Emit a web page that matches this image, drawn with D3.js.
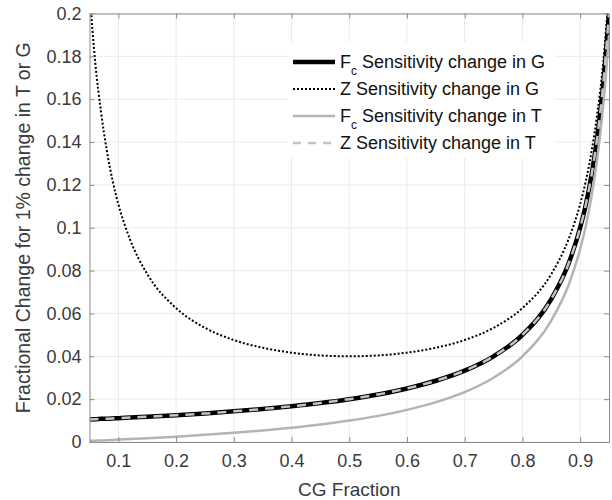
<!DOCTYPE html>
<html>
<head>
<meta charset="utf-8">
<script src="https://cdn.jsdelivr.net/npm/d3@7"></script>
<style>
    body { margin: 0; background: #fff; }
    text { font-family: "Liberation Sans", Arial, sans-serif; }
</style>
</head>
<body>
<svg></svg>
<script>
// CG fraction values where the curves were read
const cgFraction = [0.05, 0.06, 0.07, 0.08, 0.09, 0.1, 0.12, 0.15, 0.2, 0.25, 0.3, 0.35, 0.4, 0.45, 0.5,
    0.55, 0.6, 0.65, 0.7, 0.75, 0.8, 0.85, 0.88, 0.9, 0.91, 0.92, 0.93, 0.94, 0.95];

const fcChangeG = [0.0105, 0.0106, 0.0108, 0.0109, 0.011, 0.0111, 0.0114, 0.0118, 0.0125, 0.0133, 0.0143, 0.0154, 0.0167, 0.0182, 0.02,
    0.0222, 0.025, 0.0286, 0.0333, 0.04, 0.05, 0.0667, 0.0833, 0.1, 0.111, 0.125, 0.143, 0.167, 0.2];

const zChangeG = [0.2105, 0.177, 0.154, 0.136, 0.122, 0.111, 0.0947, 0.0784, 0.0625, 0.0533, 0.0476, 0.044, 0.0417, 0.0404, 0.04,
    0.0404, 0.0417, 0.044, 0.0476, 0.0533, 0.0625, 0.0784, 0.0947, 0.111, 0.122, 0.136, 0.154, 0.177, 0.2105];

const fcChangeT = [0.00053, 0.00064, 0.00075, 0.00087, 0.00099, 0.00111, 0.00136, 0.00176, 0.0025, 0.00333, 0.00429, 0.00538, 0.00667, 0.00818, 0.01,
    0.0122, 0.015, 0.0186, 0.0233, 0.03, 0.04, 0.0567, 0.0733, 0.09, 0.101, 0.115, 0.133, 0.157, 0.19];

const zChangeT = [0.0105, 0.0106, 0.0108, 0.0109, 0.011, 0.0111, 0.0114, 0.0118, 0.0125, 0.0133, 0.0143, 0.0154, 0.0167, 0.0182, 0.02,
    0.0222, 0.025, 0.0286, 0.0333, 0.04, 0.05, 0.0667, 0.0833, 0.1, 0.111, 0.125, 0.143, 0.167, 0.2];

const xTicks = [0.1, 0.2, 0.3, 0.4, 0.5, 0.6, 0.7, 0.8, 0.9];
const yTicks = [0, 0.02, 0.04, 0.06, 0.08, 0.1, 0.12, 0.14, 0.16, 0.18, 0.2];

const legendItems = [
    { main: "F", sub: "c", rest: " Sensitivity change in G" },
    { main: "Z", sub: "", rest: " Sensitivity change in G" },
    { main: "F", sub: "c", rest: " Sensitivity change in T" },
    { main: "Z", sub: "", rest: " Sensitivity change in T" }
];

const width = 612;
const height = 500;
const margin = { left: 89.5, right: 3, top: 13.5, bottom: 58 };

let svg = d3.select("svg").attr("width", width).attr("height", height);

let scX = d3.scaleLinear().domain([0.05, 0.95]).range([margin.left, width - margin.right]);
let scY = d3.scaleLinear().domain([0, 0.2]).range([height - margin.bottom, margin.top]);

const axisColor = "#8c8c8c";
const textColor = "#3a3a3a";

// grid
svg.append("g")
    .selectAll("line").data(xTicks).enter().append("line")
    .attr("x1", d => scX(d)).attr("x2", d => scX(d))
    .attr("y1", scY(0)).attr("y2", scY(0.2))
    .attr("stroke", "#ebebeb").attr("stroke-width", 1);

svg.append("g")
    .selectAll("line").data(yTicks).enter().append("line")
    .attr("x1", scX(0.05)).attr("x2", scX(0.95))
    .attr("y1", d => scY(d)).attr("y2", d => scY(d))
    .attr("stroke", "#ebebeb").attr("stroke-width", 1);

// clip for the curves
svg.append("clipPath").attr("id", "plotArea")
    .append("rect")
    .attr("x", scX(0.05)).attr("y", scY(0.2))
    .attr("width", scX(0.95) - scX(0.05))
    .attr("height", scY(0) - scY(0.2));

let line = d3.line()
    .x((d, i) => scX(cgFraction[i]))
    .y(d => scY(d))
    .curve(d3.curveMonotoneX);

let curves = svg.append("g").attr("clip-path", "url(#plotArea)");

const series = [
    { values: fcChangeG, color: "#000", width: 4.5, dash: null },
    { values: zChangeG, color: "#000", width: 2, dash: "2,2" },
    { values: fcChangeT, color: "#b4b4b4", width: 2.5, dash: null },
    { values: zChangeT, color: "#c4c4c4", width: 2.5, dash: "9,7" }
];

series.forEach(s => {
    curves.append("path")
        .attr("d", line(s.values))
        .attr("fill", "none")
        .attr("stroke", s.color)
        .attr("stroke-width", s.width)
        .attr("stroke-dasharray", s.dash);
});

// axes: box with inward ticks on all sides
let axisBottom = d3.axisBottom(scX).tickValues(xTicks).tickSizeInner(-5).tickSizeOuter(0).tickPadding(12);
let axisTop = d3.axisTop(scX).tickValues(xTicks).tickSizeInner(-5).tickSizeOuter(0).tickFormat("");
let axisLeft = d3.axisLeft(scY).tickValues(yTicks).tickSizeInner(-5).tickSizeOuter(0).tickPadding(8)
    .tickFormat(d => d === 0 ? "0" : d3.format("~g")(d));
let axisRight = d3.axisRight(scY).tickValues(yTicks).tickSizeInner(-5).tickSizeOuter(0).tickFormat("");

let drawAxis = (axis, tx, ty) => {
    let g = svg.append("g").attr("transform", `translate(${tx}, ${ty})`).call(axis);
    g.selectAll("path, line").attr("stroke", axisColor);
    g.selectAll("text")
        .attr("fill", textColor)
        .style("font-size", "18px")
        .style("font-family", "'Liberation Sans', Arial, sans-serif");
    return g;
};

drawAxis(axisBottom, 0, scY(0));
drawAxis(axisTop, 0, scY(0.2));
drawAxis(axisLeft, scX(0.05), 0);
drawAxis(axisRight, scX(0.95), 0);

// axis labels
svg.append("text")
    .attr("x", (scX(0.05) + scX(0.95)) / 2)
    .attr("y", 496)
    .attr("text-anchor", "middle")
    .attr("fill", textColor)
    .style("font-size", "19px")
    .text("CG Fraction");

svg.append("text")
    .attr("transform", `translate(30, ${(scY(0) + scY(0.2)) / 2}) rotate(-90)`)
    .attr("text-anchor", "middle")
    .attr("fill", textColor)
    .style("font-size", "19.5px")
    .text("Fractional Change for 1% change in T or G");

// legend
const legendRows = [62, 89, 116, 143];
let legend = svg.append("g");

legend.append("rect")
    .attr("x", 288).attr("y", 42)
    .attr("width", 266).attr("height", 116)
    .attr("fill", "#fff");

legendItems.forEach((item, i) => {
    let y = legendRows[i];
    let s = series[i];
    legend.append("line")
        .attr("x1", 293).attr("x2", 335).attr("y1", y).attr("y2", y)
        .attr("stroke", s.color).attr("stroke-width", s.width)
        .attr("stroke-dasharray", i === 3 ? "8,7" : s.dash);

    let t = legend.append("text")
        .attr("x", 340).attr("y", y + 6)
        .attr("fill", "#111")
        .style("font-size", "18px");
    t.append("tspan").text(item.main);
    if (item.sub) {
        t.append("tspan").attr("dy", 7).style("font-size", "12px").text(item.sub);
        t.append("tspan").attr("dy", -7).text(item.rest);
    } else {
        t.append("tspan").text(item.rest);
    }
});
</script>
</body>
</html>
